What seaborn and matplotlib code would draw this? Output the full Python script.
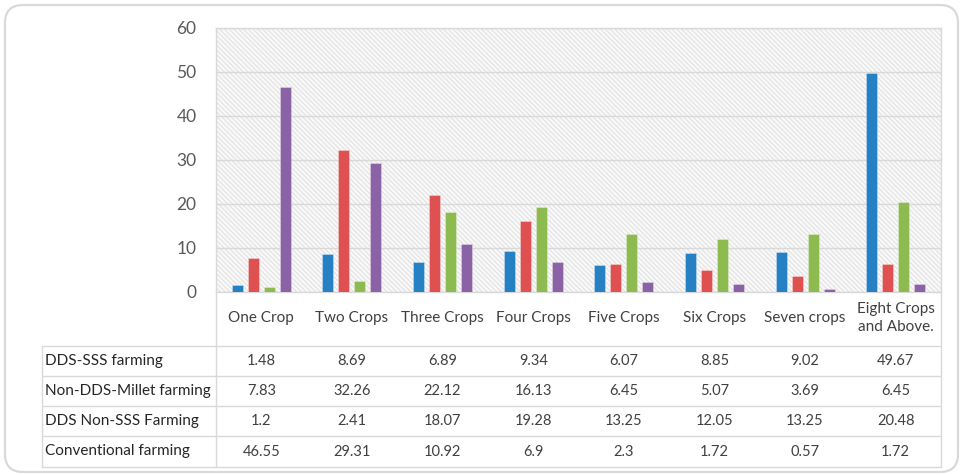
import matplotlib
matplotlib.use("Agg")
import matplotlib.pyplot as plt
import matplotlib.transforms as mtransforms
from matplotlib.patches import FancyBboxPatch, Rectangle
from matplotlib.lines import Line2D
import seaborn as sns
import pandas as pd

categories = ["One Crop", "Two Crops", "Three Crops", "Four Crops", "Five Crops",
              "Six Crops", "Seven crops", "Eight Crops\nand Above."]
series_names = ["DDS-SSS farming", "Non-DDS-Millet farming",
                "DDS Non-SSS Farming", "Conventional farming"]
dds_sss = [1.48, 8.69, 6.89, 9.34, 6.07, 8.85, 9.02, 49.67]
non_dds_millet = [7.83, 32.26, 22.12, 16.13, 6.45, 5.07, 3.69, 6.45]
dds_non_sss = [1.2, 2.41, 18.07, 19.28, 13.25, 12.05, 13.25, 20.48]
conventional = [46.55, 29.31, 10.92, 6.9, 2.3, 1.72, 0.57, 1.72]
y_ticks = [0, 10, 20, 30, 40, 50, 60]

colors = ["#2581c4", "#df5150", "#8dbb4f", "#8b62a6"]

series_values = [dds_sss, non_dds_millet, dds_non_sss, conventional]
rows = []
for name, vals in zip(series_names, series_values):
    for cat, v in zip(categories, vals):
        rows.append({"category": cat, "series": name, "value": v})
df = pd.DataFrame(rows)

sns.set_style("white")
plt.rcParams["font.family"] = ["Lato", "DejaVu Sans"]
plt.rcParams["hatch.linewidth"] = 0.6
plt.rcParams["hatch.color"] = "#dcdcdc"

W, H = 962, 475
fig = plt.figure(figsize=(W / 100, H / 100), dpi=100)
fig.patch.set_facecolor("white")

# pixel -> figure transform (origin top-left)
px = mtransforms.Affine2D().scale(1 / W, -1 / H).translate(0, 1) + fig.transFigure

# rounded outer frame
frame = FancyBboxPatch((5, 5), 953, 467,
                       boxstyle="round,pad=0,rounding_size=18",
                       transform=px, facecolor="none",
                       edgecolor="#d9d9d9", linewidth=1.6, zorder=-1)
fig.patches.append(frame)

L, R, T, B = 216, 941, 28, 292
ax = fig.add_axes([L / W, 1 - B / H, (R - L) / W, (B - T) / H])
ax.set_facecolor("white")

# diagonal hatched plot background
ax.add_patch(Rectangle((0, 0), 1, 1, transform=ax.transAxes, facecolor="#f8f8f8",
                       edgecolor="#dcdcdc", hatch="\\" * 7, linewidth=0, zorder=0))

sns.barplot(data=df, x="category", y="value", hue="series", order=categories,
            hue_order=series_names, palette=colors, width=0.706, gap=0.31,
            saturation=1, legend=False, ax=ax, zorder=3,
            edgecolor="#ffffff55", linewidth=0.6)

ax.set_ylim(0, 60)
ax.set_xlim(-0.5, len(categories) - 0.5)
ax.set_yticks(y_ticks)
ax.set_yticklabels([str(t) for t in y_ticks])
ax.set_xticks([])
ax.set_xlabel("")
ax.set_ylabel("")
ax.tick_params(axis="y", length=0, pad=14, labelsize=12.5, labelcolor="#595959")
ax.yaxis.grid(True, color="#d9d9d9", linewidth=1.0, zorder=1)
ax.set_axisbelow(True)
for s in ax.spines.values():
    s.set_color("#d9d9d9")
    s.set_linewidth(1.0)

# data table below the plot
col_tr = mtransforms.blended_transform_factory(ax.transData, px)
text_color = "#404040"
line_kw = dict(color="#d9d9d9", linewidth=1.0, transform=px)

row_lines = [346, 376, 406, 436, 467]
for y in row_lines:
    fig.add_artist(Line2D([42, R], [y, y], **line_kw))
fig.add_artist(Line2D([42, 42], [346, 467], **line_kw))
fig.add_artist(Line2D([L, L], [B, 467], **line_kw))
fig.add_artist(Line2D([R, R], [B, 467], **line_kw))

for i, cat in enumerate(categories):
    fig.text(i, 318, cat, transform=col_tr, ha="center", va="center",
             fontsize=11, color=text_color, linespacing=1.35)

row_centers = [361, 391, 421, 451.5]
for yc, name, vals in zip(row_centers, series_names, series_values):
    fig.text(45, yc, name, transform=px, ha="left", va="center",
             fontsize=11, color="#262626")
    for i, v in enumerate(vals):
        fig.text(i, yc, f"{v:g}", transform=col_tr, ha="center", va="center",
                 fontsize=10.5, color=text_color)

fig.savefig("out.png", dpi=100, facecolor="white")
